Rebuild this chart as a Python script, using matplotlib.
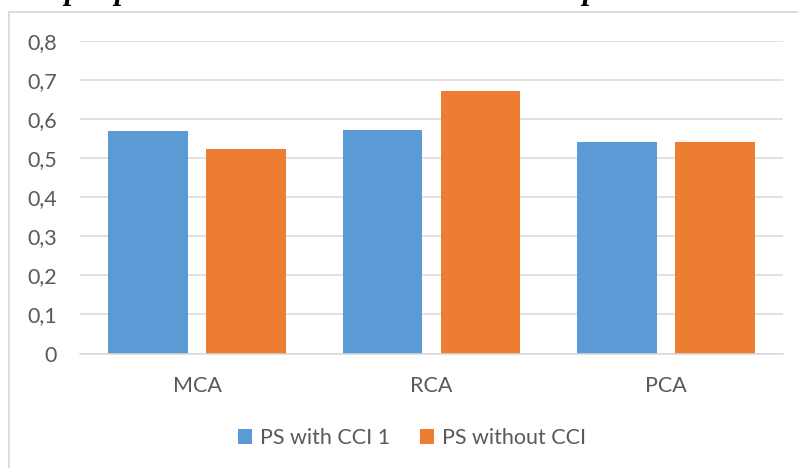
import matplotlib.pyplot as plt
import numpy as np
from matplotlib.patches import Rectangle

categories = ["MCA", "RCA", "PCA"]
with_cci = [0.568, 0.572, 0.542]
without_cci = [0.523, 0.672, 0.542]
series_names = ["PS with CCI 1", "PS without CCI"]
yticks = [0, 0.1, 0.2, 0.3, 0.4, 0.5, 0.6, 0.7, 0.8]
ytick_labels = ["0", "0,1", "0,2", "0,3", "0,4", "0,5", "0,6", "0,7", "0,8"]

blue = "#5B9BD5"
orange = "#ED7D31"
grid_col = "#D9D9D9"
text_col = "#595959"

plt.rcParams["font.family"] = ["Lato", "DejaVu Sans"]

W, H = 798, 468
fig = plt.figure(figsize=(W / 100, H / 100), dpi=100)
ax = fig.add_axes([80 / W, 1 - 353.5 / H, 703 / W, (353.5 - 40.7) / H])

x = np.arange(len(categories))
width = 0.341
offset = 0.209
ax.bar(x - offset, with_cci, width, color=blue, zorder=3, label=series_names[0])
ax.bar(x + offset, without_cci, width, color=orange, zorder=3, label=series_names[1])

ax.set_xlim(-0.5, len(categories) - 0.5)
ax.set_ylim(0, 0.8)
ax.set_yticks(yticks)
ax.set_yticklabels(ytick_labels)
ax.set_xticks(x)
ax.set_xticklabels(categories)
ax.tick_params(axis="y", length=0, pad=16.5, labelsize=15.5, labelcolor=text_col)
ax.tick_params(axis="x", length=0, pad=16.5, labelsize=15.5, labelcolor=text_col)
ax.yaxis.grid(True, color=grid_col, linewidth=1.1, zorder=0)
for side in ["top", "right", "left"]:
    ax.spines[side].set_visible(False)
ax.spines["bottom"].set_color(grid_col)
ax.spines["bottom"].set_linewidth(1.1)
ax.spines["bottom"].set_zorder(4)

fig.legend(loc="center", bbox_to_anchor=(412 / W, 1 - 438 / H), ncol=2,
           frameon=False, fontsize=15.5, labelcolor=text_col,
           handlelength=0.65, handleheight=0.65, handletextpad=0.35,
           columnspacing=1.4)

# chart area border
fig.patches.append(Rectangle((9 / W, -0.1), 1.2, 1.1 - 12 / H, transform=fig.transFigure,
                             fill=False, edgecolor=grid_col, linewidth=1.3))

# caption above the chart, only its lower edge falls inside the image
for ch, px in [("j", -8), ("p", 64), ("p", 114), ("p", 582)]:
    fig.text(px / W, 1.0 + 1.5 / H, ch, fontsize=22, family="Liberation Serif",
             weight="bold", style="italic", va="baseline", ha="left", color="black")

fig.savefig("out.png", dpi=100)
